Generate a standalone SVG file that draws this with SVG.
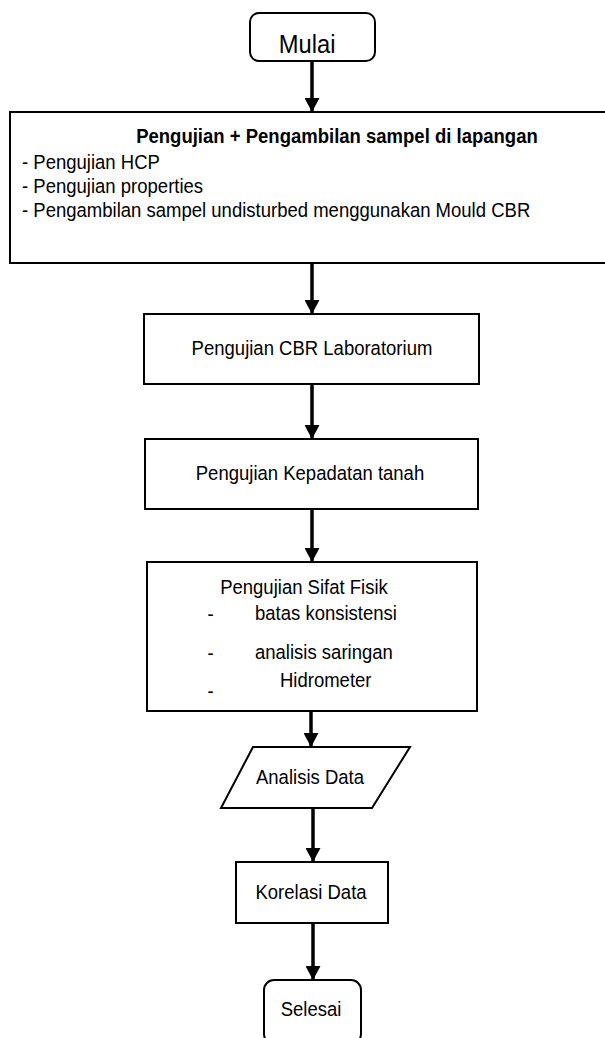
<svg xmlns="http://www.w3.org/2000/svg" width="605" height="1038" viewBox="0 0 605 1038">
<style>
.box{fill:#fff;stroke:#000;stroke-width:2}
.t{font-family:"Liberation Sans",Arial,sans-serif;font-size:19.5px;fill:#000}
.c{text-anchor:middle}
.b{font-weight:bold}
.conn{stroke:#000;stroke-width:3.5;fill:none;marker-end:url(#ah)}
</style>
<defs>
<marker id="ah" markerUnits="userSpaceOnUse" markerWidth="16" markerHeight="15" refX="14" refY="7.5" orient="auto" viewBox="0 0 16 15">
<path d="M0,0 L14,7.5 L0,15 Z" fill="#000"/>
</marker>
</defs>
<rect width="605" height="1038" fill="#fff"/>
<g id="connectors">
<line class="conn" x1="312" y1="61" x2="312" y2="112"/>
<line class="conn" x1="312" y1="263" x2="312" y2="314"/>
<line class="conn" x1="312" y1="384" x2="312" y2="439"/>
<line class="conn" x1="312" y1="509" x2="312" y2="562"/>
<line class="conn" x1="311" y1="711" x2="311" y2="747"/>
<line class="conn" x1="313" y1="808" x2="313" y2="862"/>
<line class="conn" x1="313" y1="923" x2="313" y2="980"/>
</g>
<g id="mulai">
<rect class="box" x="250" y="13" width="125" height="48" rx="9"/>
<text class="t c" transform="scale(0.95,1)" x="323.2" y="53" style="font-size:25px">Mulai</text>
</g>
<g id="lapangan">
<rect class="box" x="10" y="112" width="610" height="151"/>
<text class="t c b" transform="scale(0.95,1)" x="354.7" y="143">Pengujian + Pengambilan sampel di lapangan</text>
<text class="t" transform="scale(0.95,1)" x="23.2" y="169">- Pengujian HCP</text>
<text class="t" transform="scale(0.95,1)" x="23.2" y="193">- Pengujian properties</text>
<text class="t" transform="scale(0.95,1)" x="23.2" y="217">- Pengambilan sampel undisturbed menggunakan Mould CBR</text>
</g>
<g id="cbr">
<rect class="box" x="144" y="314" width="335" height="70"/>
<text class="t c" transform="scale(0.95,1)" x="328.4" y="355">Pengujian CBR Laboratorium</text>
</g>
<g id="kepadatan">
<rect class="box" x="145" y="439" width="333" height="70"/>
<text class="t c" transform="scale(0.95,1)" x="326.3" y="480">Pengujian Kepadatan tanah</text>
</g>
<g id="sifatfisik">
<rect class="box" x="147" y="562" width="330" height="149"/>
<text class="t c" transform="scale(0.95,1)" x="320" y="594">Pengujian Sifat Fisik</text>
<text class="t" transform="scale(0.95,1)" x="218.5" y="621">-</text>
<text class="t" transform="scale(0.95,1)" x="268.4" y="620">batas konsistensi</text>
<text class="t" transform="scale(0.95,1)" x="218.5" y="660">-</text>
<text class="t" transform="scale(0.95,1)" x="268.4" y="659">analisis saringan</text>
<text class="t" transform="scale(0.95,1)" x="218.5" y="698">-</text>
<text class="t" transform="scale(0.95,1)" x="294.7" y="687">Hidrometer</text>
</g>
<g id="analisis">
<polygon class="box" points="253,747 410,747 372,808 221,808"/>
<text class="t c" transform="scale(0.95,1)" x="326.3" y="784">Analisis Data</text>
</g>
<g id="korelasi">
<rect class="box" x="236" y="862" width="152" height="61"/>
<text class="t c" transform="scale(0.95,1)" x="327.4" y="899">Korelasi Data</text>
</g>
<g id="selesai">
<rect class="box" x="264" y="980" width="97" height="64" rx="10"/>
<text class="t c" transform="scale(0.95,1)" x="327.4" y="1016">Selesai</text>
</g>
</svg>
